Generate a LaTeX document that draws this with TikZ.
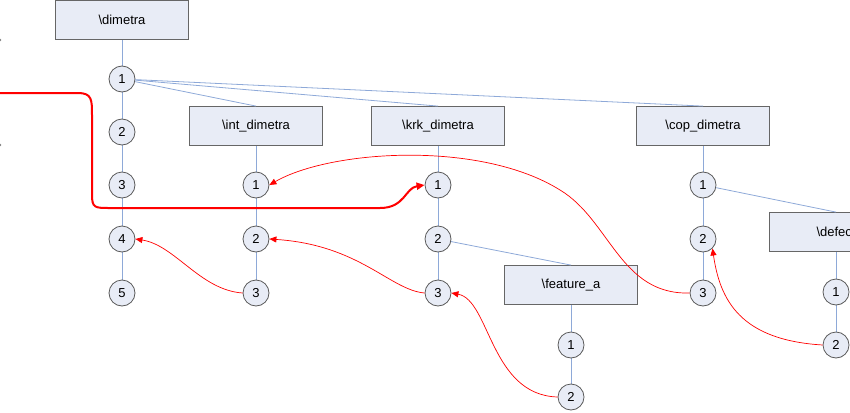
\documentclass[tikz,border=0pt]{standalone}
\usepackage{fontspec}
\setmainfont{Liberation Sans}
\usetikzlibrary{arrows.meta}
\begin{document}
\begin{tikzpicture}[x=1pt,y=-1pt,
 box/.style={draw=black!60,fill=fillc,line width=0.8pt,minimum width=133pt,minimum height=39pt,font=\fontsize{13}{15}\selectfont,inner sep=0pt},
 cir/.style={circle,draw=black!65,fill=fillc,line width=0.8pt,minimum size=26pt,inner sep=0pt,font=\fontsize{13}{15}\selectfont},
 ln/.style={draw=linec,line width=0.8pt},
 ra/.style={draw=red!80,line width=0.7pt,-{Triangle[length=7pt,width=6pt]},color=red},
 ]
\definecolor{fillc}{HTML}{E8ECF6}
\definecolor{linec}{HTML}{8EA9D8}
\useasboundingbox (0,0) rectangle (850,412);
\clip (0,0) rectangle (850,412);
\draw[ln] (122,20) -- (122,293);
\draw[ln] (256,126) -- (256,293);
\draw[ln] (438,126) -- (438,293);
\draw[ln] (703,126) -- (703,293);
\draw[ln] (571,285) -- (571,397);
\draw[ln] (836,232) -- (836,345);
\node[box] (dim) at (122,20) {\textbackslash dimetra};
\node[box] (int) at (256,126) {\textbackslash int\_dimetra};
\node[box] (krk) at (438,126) {\textbackslash krk\_dimetra};
\node[box] (cop) at (703,126) {\textbackslash cop\_dimetra};
\node[box] (fea) at (571,285) {\textbackslash feature\_a};
\node[box] (def) at (836,232) {\textbackslash defect};
\foreach \n/\y in {1/79,2/132,3/185,4/239,5/293} \node[cir] (d\n) at (122,\y) {\n};
\foreach \n/\y in {1/185,2/239,3/293} {
  \node[cir] (i\n) at (256,\y) {\n};
  \node[cir] (k\n) at (438,\y) {\n};
  \node[cir] (c\n) at (703,\y) {\n};}
\node[cir] (f1) at (571,345) {1};
\node[cir] (f2) at (571,397) {2};
\node[cir] (e1) at (836,292) {1};
\node[cir] (e2) at (836,345) {2};
\draw[ln] (d1) -- (int.north);
\draw[ln] (d1) -- (krk.north);
\draw[ln] (d1) -- (cop.north);
\draw[ln] (k2) -- (fea.north);
\draw[ln] (c1) -- (def.north);
\draw[ra] (i3.west) .. controls (200,290) and (175,245) .. (d4.east);
\draw[ra] (k3.west) .. controls (390,290) and (360,245) .. (i2.east);
\draw[ra] (f2.west) .. controls (490,395) and (490,300) .. (k3.east);
\draw[ra] (c3.west) .. controls (620,295) and (610,220) .. (560,190) .. controls (480,140) and (330,150) .. (i1.east);
\draw[ra] (e2.west) .. controls (740,340) and (720,300) .. (c2.south east);
\draw[red,line width=2pt,-{Triangle[length=8pt,width=7pt]}] (0,93) -- (78,93) .. controls (92,93) and (92,100) .. (92,115) -- (92,195) .. controls (92,208) and (95,208) .. (110,208) -- (380,208) .. controls (405,208) and (405,188) .. (k1.west);
\fill[black!50] (0,40) circle (1.3pt) (0,145) circle (1.3pt);
\end{tikzpicture}
\end{document}
